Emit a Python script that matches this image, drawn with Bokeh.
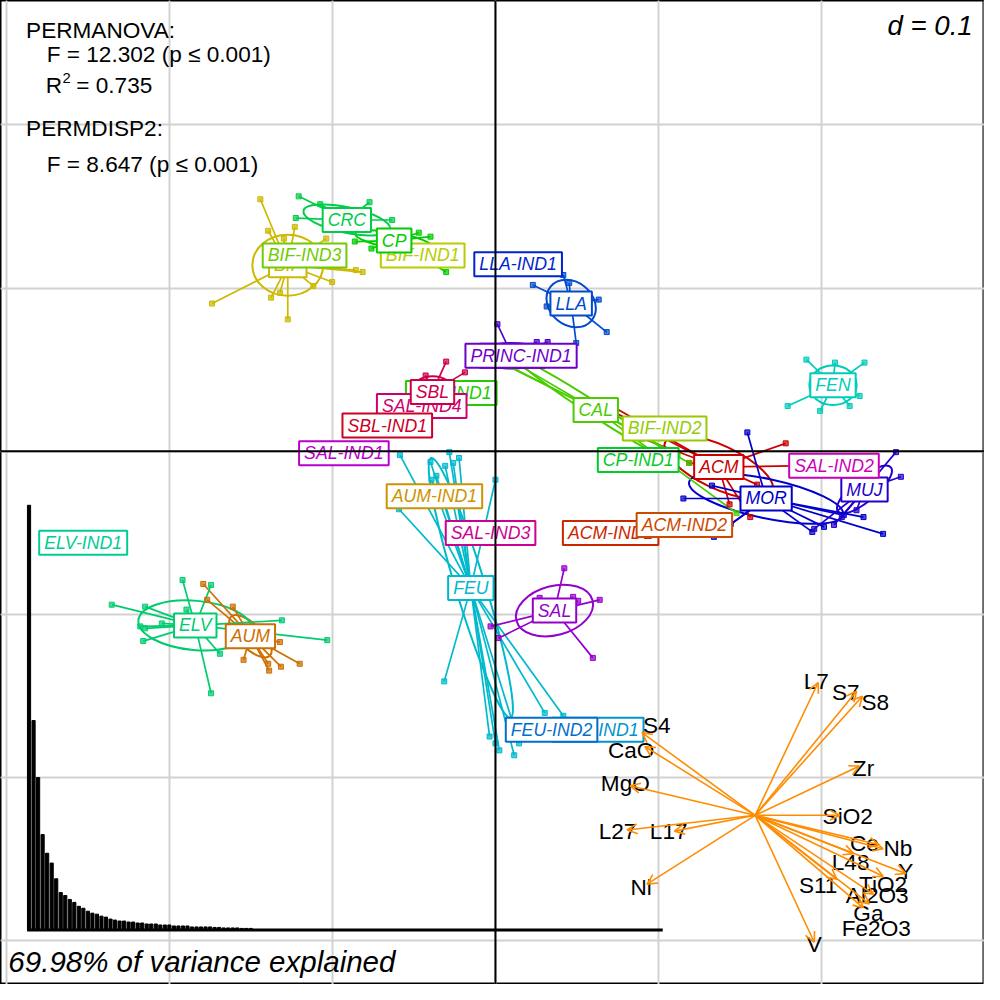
import colorsys
from bokeh.plotting import figure
from bokeh.models import Range1d, Span, Grid, FixedTicker, ColumnDataSource, Arrow, OpenHead
from bokeh.core.properties import value
from bokeh.embed import file_html
from bokeh.resources import INLINE

# ---------------- data (data units) ----------------
level_names = ["ACM", "ACM-IND1", "ACM-IND2", "AUM", "AUM-IND1", "BIF", "BIF-IND1", "BIF-IND2",
               "BIF-IND3", "CAL", "CAL-IND1", "CP", "CP-IND1", "CRC", "ELV", "ELV-IND1", "FEN",
               "FEU", "FEU-IND1", "FEU-IND2", "LLA", "LLA-IND1", "MOR", "MUJ", "PRINC",
               "PRINC-IND1", "SAL", "SAL-IND1", "SAL-IND2", "SAL-IND3", "SAL-IND4", "SBL", "SBL-IND1"]
level_x = [0.1369, 0.0706, 0.1158, -0.1502, -0.0374, -0.1273, -0.0446, 0.1037, -0.1170, 0.0615,
           -0.0271, -0.0621, 0.0875, -0.0911, -0.1840, -0.2527, 0.2069, -0.0151, 0.0627, 0.0344,
           0.0464, 0.0139, 0.1659, 0.2262, 0.0103, 0.0157, 0.0362, -0.0929, 0.2075, -0.0030,
           -0.0452, -0.0386, -0.0663]
level_y = [-0.0097, -0.0501, -0.0452, -0.1134, -0.0277, 0.1140, 0.1200, 0.0139, 0.1200, 0.0253,
           0.0356, 0.1291, -0.0054, 0.1417, -0.1068, -0.0561, 0.0404, -0.0838, -0.1707, -0.1707,
           0.0905, 0.1146, -0.0290, -0.0235, 0.0585, 0.0585, -0.0977, -0.0012, -0.0090, -0.0501,
           0.0277, 0.0362, 0.0157]

ACM_x = [0.0657, 0.0724, 0.0899, 0.1779, 0.1604, 0.1435, 0.1562, 0.1821, 0.1188]
ACM_y = [0.0277, 0.0271, 0.0078, 0.0048, -0.0205, -0.0326, -0.0404, -0.0090, -0.0072]
AUM_x = [-0.1791, -0.1767, -0.1610, -0.1544, -0.1393, -0.1387, -0.1321, -0.1200, -0.1315]
AUM_y = [-0.0814, -0.0911, -0.0953, -0.1279, -0.1303, -0.1345, -0.1170, -0.1303, -0.1321]
BIF_x = [-0.1441, -0.1393, -0.1230, -0.1037, -0.0856, -0.0814, -0.1001, -0.1116, -0.1321, -0.1375,
         -0.1737, -0.1273, -0.1297]
BIF_y = [0.1544, 0.1351, 0.1375, 0.1303, 0.1110, 0.1098, 0.1037, 0.1013, 0.0971, 0.0941, 0.0905,
         0.0808, 0.1303]
CAL_x = [0.0018, 0.0054, 0.0078, 0.1188, 0.1478, 0.1116]
CAL_y = [0.0555, 0.0579, 0.0519, -0.0072, -0.0380, -0.0024]
CP_x = [-0.0398, -0.0302, -0.0760, -0.0470, -0.0862]
CP_y = [0.1315, 0.1098, 0.1242, 0.1339, 0.1285]
CRC_x = [-0.1206, -0.1224, -0.1074, -0.0633, -0.0772]
CRC_y = [0.1562, 0.1429, 0.1514, 0.1417, 0.1526]
ELV_x = [-0.2352, -0.2147, -0.2177, -0.2159, -0.2045, -0.1918, -0.1743, -0.1894, -0.1743, -0.1689,
         -0.1309, -0.1031, -0.2147]
ELV_y = [-0.0941, -0.0953, -0.1074, -0.1164, -0.1056, -0.0790, -0.0820, -0.0971, -0.1484, -0.1242,
         -0.1037, -0.1158, -0.1086]
FEN_x = [0.1906, 0.2081, 0.2262, 0.1791, 0.1990, 0.2171, 0.2232]
FEN_y = [0.0561, 0.0543, 0.0543, 0.0277, 0.0247, 0.0277, 0.0338]
FEU_x = [-0.0585, -0.0398, -0.0362, -0.0392, -0.0308, -0.0283, 0.0000, -0.0591, -0.0314, 0.0302,
         0.0000, 0.0024, 0.0115, 0.0416, 0.0145, -0.0036, -0.0259, -0.0223]
FEU_y = [-0.0024, -0.0066, -0.0151, -0.0175, -0.0090, -0.0006, -0.0175, -0.0356, -0.1411, -0.1604,
         -0.1791, -0.1834, -0.1864, -0.1622, -0.1791, -0.1749, -0.0072, -0.0042]
LLA_x = [0.0229, 0.0416, 0.0452, 0.0314, 0.0633, 0.0682, 0.0495]
LLA_y = [0.1019, 0.1080, 0.1031, 0.0887, 0.0929, 0.0730, 0.0663]
MOR_x = [0.1544, 0.1152, 0.1327, 0.1339, 0.2256, 0.2376, 0.1942, 0.2014, 0.2135, 0.1442]
MOR_y = [0.0115, -0.0290, -0.0211, -0.0525, -0.0404, -0.0507, -0.0495, -0.0464, -0.0392, -0.0446]
MUJ_x = [0.2455, 0.2485, 0.2123, 0.2075, 0.1954, 0.2213]
MUJ_y = [-0.0006, -0.0157, -0.0404, -0.0452, -0.0476, -0.0362]
PRINC_x = [0.0012, 0.0253, 0.0320, -0.0066]
PRINC_y = [0.0778, 0.0669, 0.0669, 0.0639]
SAL_x = [0.0422, 0.0271, 0.0476, 0.0507, 0.0639, -0.0030, 0.0018, 0.0597]
SAL_y = [-0.0718, -0.0899, -0.0893, -0.0917, -0.0911, -0.1074, -0.1146, -0.1267]
SBL_x = [-0.0302, -0.0428, -0.0187]
SBL_y = [0.0549, 0.0464, 0.0483]

ell_groups = ["ACM", "AUM", "BIF", "CAL", "CP", "CRC", "ELV", "FEN", "FEU", "LLA", "MOR", "MUJ",
              "PRINC", "SAL", "SBL"]
ell_width = [0.0724, 0.0338, 0.0434, 0.1146, 0.0483, 0.0543, 0.0700, 0.0290, 0.1665, 0.0326,
             0.0965, 0.0422, 0.0398, 0.0483, 0.0265]
ell_height = [0.0265, 0.0145, 0.0374, 0.0084, 0.0097, 0.0157, 0.0302, 0.0241, 0.0181, 0.0265,
              0.0241, 0.0145, 0.0157, 0.0302, 0.0193]
ell_angle = [-25, -45, 0, -33, -10, -12, -5, 0, -73, -40, -12, 40, 0, 15, 0]

var_names = ["L7", "S7", "S8", "Zr", "SiO2", "Ce", "Nb", "Y", "L48", "TiO2", "Al2O3", "Ga",
             "Fe2O3", "S11", "V", "Ni", "L27", "L17", "MgO", "CaO", "S4"]
var_dx = [0.0386, 0.0621, 0.0657, 0.0639, 0.0519, 0.0760, 0.0784, 0.0923, 0.0603, 0.0784, 0.0724,
          0.0700, 0.0663, 0.0501, 0.0362, -0.0663, -0.0784, -0.0495, -0.0766, -0.0676, -0.0694]
var_dy = [0.0814, 0.0760, 0.0730, 0.0302, 0.0000, -0.0181, -0.0205, -0.0356, -0.0235, -0.0374,
          -0.0483, -0.0543, -0.0567, -0.0392, -0.0778, -0.0422, -0.0090, -0.0097, 0.0181, 0.0422,
          0.0507]
var_lab_x = [0.1966, 0.2147, 0.2328, 0.2256, 0.2159, 0.2262, 0.2467, 0.2515, 0.2177, 0.2376, 0.2340,
             0.2286, 0.2334, 0.1978, 0.1954, 0.0893, 0.0748, 0.1062, 0.0796, 0.0832, 0.0989]
var_lab_y = [-0.1411, -0.1478, -0.1538, -0.1942, -0.2238, -0.2407, -0.2437, -0.2575, -0.2521,
             -0.2654, -0.2726, -0.2835, -0.2925, -0.2660, -0.3022, -0.2672, -0.2334, -0.2334,
             -0.2039, -0.1834, -0.1683]
arrow_origin = (0.1592, -0.2232)

eig_values = [432, 213, 155, 97, 78, 68, 52, 38, 35, 31, 28, 24, 22, 19, 17, 16, 14, 13, 11, 10,
              9, 9, 8, 8, 7, 7, 6, 6, 6, 5, 5, 5, 4, 4, 4, 4, 3, 3, 3, 3, 3, 2.5, 2.5, 2, 2, 2, 2,
              1.5, 1.5, 1.5]

grid_ticks = [-0.3, -0.2, -0.1, 0.0, 0.1, 0.2, 0.3]

# ---------------- layout helpers (reference pixel -> data) ----------------
W = 984                      # figure size in page pixels
F = W / 1000.0               # reference pixel -> figure pixel
PX0, PY0, SCALE = 503.0, 458.0, 1658.0
def X(px):
    return (px - PX0) / SCALE
def Y(py):
    return (PY0 - py) / SCALE
def fs(px):
    return "%.1fpx" % (px * F)

def level_color(i):
    r, g, b = colorsys.hsv_to_rgb(i / len(level_names), 1.0, 0.8)
    return "#%02x%02x%02x" % (round(r * 255), round(g * 255), round(b * 255))

colors = {n: level_color(i) for i, n in enumerate(level_names)}
centroid = {n: (level_x[i], level_y[i]) for i, n in enumerate(level_names)}
group_points = {"ACM": (ACM_x, ACM_y), "AUM": (AUM_x, AUM_y), "BIF": (BIF_x, BIF_y),
                "CAL": (CAL_x, CAL_y), "CP": (CP_x, CP_y), "CRC": (CRC_x, CRC_y),
                "ELV": (ELV_x, ELV_y), "FEN": (FEN_x, FEN_y), "FEU": (FEU_x, FEU_y),
                "LLA": (LLA_x, LLA_y), "MOR": (MOR_x, MOR_y), "MUJ": (MUJ_x, MUJ_y),
                "PRINC": (PRINC_x, PRINC_y), "SAL": (SAL_x, SAL_y), "SBL": (SBL_x, SBL_y)}

p = figure(width=W, height=W, x_range=Range1d(X(0), X(1000)), y_range=Range1d(Y(1000), Y(0)),
           output_backend="svg", toolbar_location=None, min_border=0,
           x_axis_location=None, y_axis_location=None)
p.outline_line_color = "black"
p.outline_line_width = 2
p.background_fill_color = "white"

p.add_layout(Grid(dimension=0, ticker=FixedTicker(ticks=grid_ticks), grid_line_color="#d2d2d2",
                  grid_line_width=2))
p.add_layout(Grid(dimension=1, ticker=FixedTicker(ticks=grid_ticks), grid_line_color="#d2d2d2",
                  grid_line_width=2))
p.add_layout(Span(location=0, dimension="height", line_color="black", line_width=2))
p.add_layout(Span(location=0, dimension="width", line_color="black", line_width=2))

# ellipses
for g, w, h, a in zip(ell_groups, ell_width, ell_height, ell_angle):
    cx, cy = centroid[g]
    p.ellipse(x=[cx], y=[cy], width=[w], height=[h], angle=[a], angle_units="deg",
              fill_alpha=0, line_color=colors[g], line_width=2)
# stars
for g, (xs, ys) in group_points.items():
    cx, cy = centroid[g]
    p.segment(x0=[cx] * len(xs), y0=[cy] * len(xs), x1=xs, y1=ys, line_color=colors[g],
              line_width=1.7)
# points
for g, (xs, ys) in group_points.items():
    p.scatter(x=xs, y=ys, marker="square", size=5, fill_color=colors[g], fill_alpha=0.7,
              line_color=colors[g], line_width=1)
# labels
for n in level_names:
    cx, cy = centroid[n]
    p.text(x=[cx], y=[cy], text=[n], text_align="center", text_baseline="middle",
           text_font=value("Liberation Sans"), text_font_style="italic", text_font_size=fs(18),
           text_color=colors[n], background_fill_color="white", border_line_color=colors[n],
           border_line_width=2, padding=(5, 2))

# variable arrows
ox, oy = arrow_origin
asrc = ColumnDataSource(dict(x0=[ox] * len(var_dx), y0=[oy] * len(var_dx),
                             x1=[ox + d for d in var_dx], y1=[oy + d for d in var_dy]))
p.add_layout(Arrow(source=asrc, x_start="x0", y_start="y0", x_end="x1", y_end="y1",
                   line_color="#ff8c00", line_width=1.6,
                   end=OpenHead(size=10, line_color="#ff8c00", line_width=1.6)))
p.text(x=var_lab_x, y=var_lab_y, text=var_names, text_align="center", text_baseline="middle",
       text_font=value("Liberation Sans"), text_font_size=fs(23), text_color="black")

# eigenvalue inset through its own scales
k = 431.5 / eig_values[0]
bar_step = 4.6
p.extra_x_ranges = {"eig_x": Range1d((0 - 29) / bar_step, (1000 - 29) / bar_step)}
p.extra_y_ranges = {"eig_y": Range1d((944.5 - 1000) / k, (944.5 - 0) / k)}
p.vbar(x=list(range(len(eig_values))), top=eig_values, bottom=0, width=0.7, color="black",
       x_range_name="eig_x", y_range_name="eig_y")
p.segment(x0=[(27 - 29) / bar_step], y0=[0], x1=[(673 - 29) / bar_step], y1=[0], line_color="black",
          line_width=3, x_range_name="eig_x", y_range_name="eig_y")

# text annotations (positions: left/right edge and vertical centre, reference pixels)
def txt(px, py, s, size, style="normal", align="left"):
    p.text(x=[X(px)], y=[Y(py)], text=[s], text_align=align, text_baseline="middle",
           text_font=value("Liberation Sans"), text_font_style=style, text_font_size=fs(size),
           text_color="black")

txt(26, 30, "PERMANOVA:", 23)
txt(47, 55, "F = 12.302 (p \u2264 0.001)", 23)
txt(46, 86, "R", 23)
txt(63, 79, "2", 15)
txt(77, 86, "= 0.735", 23)
txt(26, 130, "PERMDISP2:", 23)
txt(47, 167, "F = 8.647 (p \u2264 0.001)", 23)
txt(988, 25, "d = 0.1", 28, style="italic", align="right")
txt(8, 977, "69.98% of variance explained", 30, style="italic")

open("out.html", "w").write(file_html(p, INLINE))
